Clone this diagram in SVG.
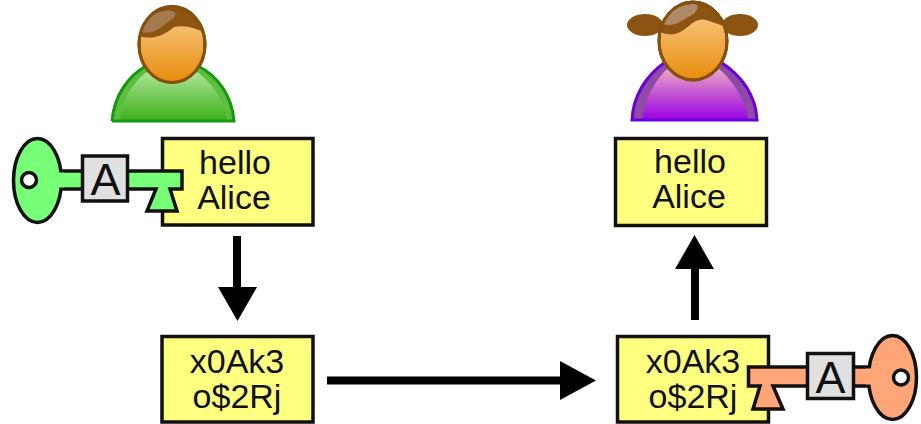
<svg xmlns="http://www.w3.org/2000/svg" width="921" height="424" viewBox="0 0 921 424">
  <style>
    text { font-family: "Liberation Sans", Arial, sans-serif; fill: #111; text-anchor: middle; }
    .msg { fill: #ffff80; stroke: #111; stroke-width: 3.5; }
    .big { font-size: 34px; }
    .code { font-size: 34px; }
    .tag { fill: #e0e0e0; stroke: #111; stroke-width: 3.500; }
    .tagtext { font-size: 45px; }
    .outline { stroke: #111; stroke-width: 3.500; stroke-linejoin: miter; }
    .hole { fill: #fff; stroke: #111; stroke-width: 3.500; }
    .pub { fill: #77ff77; }
    .priv { fill: #ffa577; }
    .hair { fill: #8b5413; }
    .face { fill: url(#skin); stroke: #85500f; stroke-width: 3; }
    .wire { fill: none; stroke: #000; stroke-width: 8; }
    .head { fill: #000; }
  </style>
  <defs>
    <linearGradient id="skin" x1="0" y1="0" x2="0" y2="1">
      <stop offset="0" stop-color="#f9cf90"/>
      <stop offset="1" stop-color="#e88c0c"/>
    </linearGradient>
    <linearGradient id="shirtGreen" x1="0" y1="0" x2="0" y2="1">
      <stop offset="0" stop-color="#b4e79c"/>
      <stop offset="1" stop-color="#3aae18"/>
    </linearGradient>
    <linearGradient id="shirtPurple" x1="0" y1="0" x2="0" y2="1">
      <stop offset="0" stop-color="#eba9c6"/>
      <stop offset="1" stop-color="#9a00e4"/>
    </linearGradient>
    <clipPath id="bobHead"><ellipse cx="172" cy="44.500" rx="33" ry="38"/></clipPath>
    <clipPath id="aliceHead"><ellipse cx="693" cy="41" rx="34" ry="39"/></clipPath>
  </defs>

  <g id="connectors">
    <path class="wire" d="M237 236V292"/>
    <path class="head" d="M218 287H257L237.500 321Z"/>
    <path class="wire" d="M327 380.500H564"/>
    <path class="head" d="M560 361V400L596 380.500Z"/>
    <path class="wire" d="M695 320V264"/>
    <path class="head" d="M675 269H714L694.500 235Z"/>
  </g>

  <g id="person-left">
    <path d="M112 121C114 96 128 76 146 66H198C218 76 232 96 234 121Z" fill="#5cbd3e"/>
    <path d="M120 121C122 98 134 80 150 70H194C210 80 224 98 227 121Z" fill="url(#shirtGreen)"/>
    <path d="M112 121C114 96 128 76 146 66M198 66C218 76 232 96 234 121H112" fill="none" stroke="#129a0c" stroke-width="3"/>
    <ellipse class="face" cx="172" cy="44.500" rx="33" ry="38"/>
    <g clip-path="url(#bobHead)">
      <path class="hair" d="M135 4H210V35C202 31 188 24 174 27C164 36 150 41 136 35Z"/>
      <path d="M142 32C143 18 158 9 172 11C178 12 176 18 168 22C160 29 150 35 142 32Z" fill="#a57a4c"/>
    </g>
    <ellipse cx="172" cy="44.500" rx="33" ry="38" fill="none" stroke="#85500f" stroke-width="3"/>
  </g>

  <g id="person-right">
    <ellipse class="hair" cx="645" cy="25" rx="18" ry="11"/>
    <ellipse class="hair" cx="740" cy="25" rx="18" ry="11"/>
    <path d="M632 120C633 96 646 76 664 63H722C742 76 756 96 757 120Z" fill="#8f4aa5"/>
    <path d="M642 120C645 98 655 80 668 68H718C732 80 745 98 748 120Z" fill="url(#shirtPurple)"/>
    <path d="M664 63C646 76 633 96 632 120H757C756 96 742 76 722 63" fill="none" stroke="#6a00dc" stroke-width="3"/>
    <ellipse class="face" cx="693" cy="41" rx="34" ry="39"/>
    <g clip-path="url(#aliceHead)">
      <path class="hair" d="M655 0H730V28C722 26 716 23 706 20C694 17 690 28 678 33C670 36 664 34 657 30Z"/>
      <path d="M663 24C666 13 680 4 694 4C700 5 698 11 692 15C682 20 674 28 663 24Z" fill="#b08a68"/>
    </g>
    <ellipse cx="693" cy="41" rx="34" ry="39" fill="none" stroke="#85500f" stroke-width="3"/>
  </g>

  <g id="message-plain-left">
    <rect class="msg" x="162.500" y="138.500" width="150.500" height="86.500"/>
    <text class="big"><tspan x="235" y="174">hello</tspan><tspan x="234" y="209">Alice</tspan></text>
  </g>

  <g id="message-plain-right">
    <rect class="msg" x="615.500" y="138.500" width="151" height="87"/>
    <text class="big"><tspan x="690" y="173">hello</tspan><tspan x="689" y="208">Alice</tspan></text>
  </g>

  <g id="message-cipher-left">
    <rect class="msg" x="162" y="336.500" width="151" height="85.500"/>
    <text class="code"><tspan x="237" y="373">x0Ak3</tspan><tspan x="237" y="408">o$2Rj</tspan></text>
  </g>

  <g id="message-cipher-right">
    <rect class="msg" x="617.500" y="336.500" width="151" height="85.500"/>
    <text class="code"><tspan x="693" y="373">x0Ak3</tspan><tspan x="693" y="408">o$2Rj</tspan></text>
  </g>

  <g id="key-green">
    <path class="pub outline" d="M60 171H182V189H170L177 211H147L156 189H60Q62 180 60 171Z"/>
    <ellipse class="pub outline" cx="37.500" cy="180.500" rx="24" ry="42"/>
    <path class="pub" d="M56 172.500H64V187.500H56Z"/>
    <circle class="hole" cx="29" cy="180" r="7.500"/>
    <rect class="tag" x="82.500" y="156" width="45" height="45"/>
    <text class="tagtext" x="105.500" y="195">A</text>
  </g>

  <g id="key-orange">
    <path class="priv outline" d="M870 367H748.500V386H760L753 409H783L773 386H870Q868 377 870 367Z"/>
    <ellipse class="priv outline" cx="892.500" cy="377.500" rx="24" ry="42"/>
    <path class="priv" d="M866 368.500H874V384.500H866Z"/>
    <circle class="hole" cx="901" cy="377.500" r="7.500"/>
    <rect class="tag" x="807.500" y="353.500" width="46" height="45"/>
    <text class="tagtext" x="830.500" y="393">A</text>
  </g>
</svg>
